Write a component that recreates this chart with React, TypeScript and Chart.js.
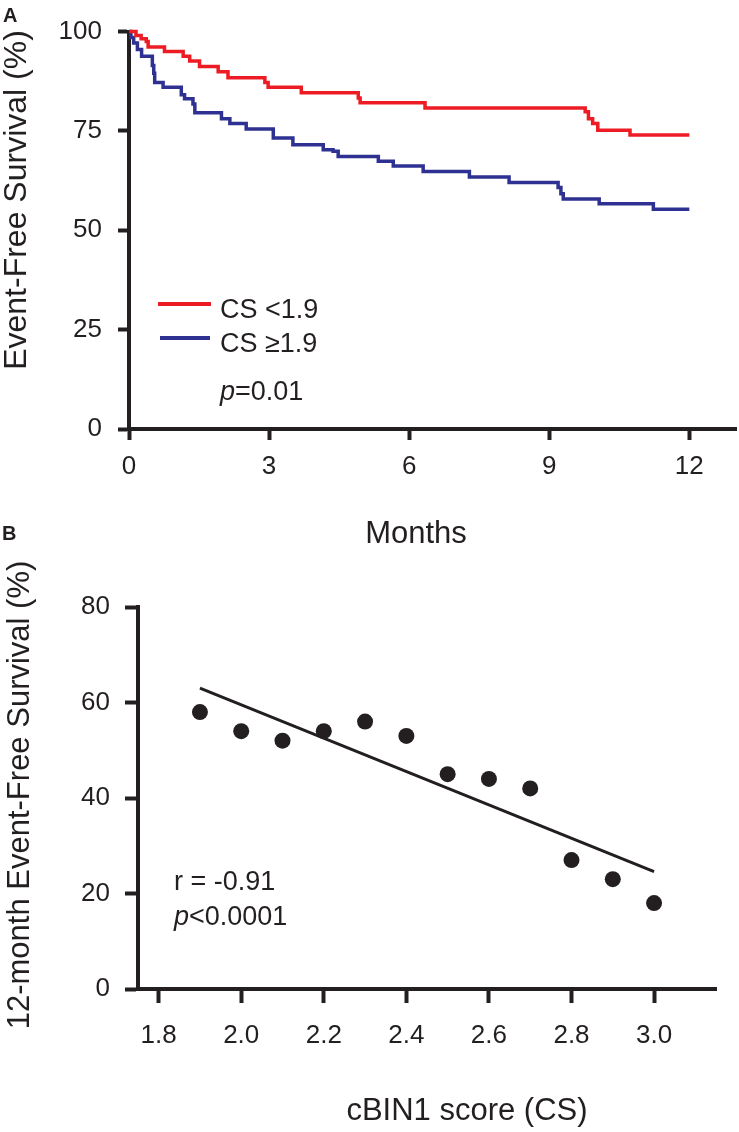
import React, { useEffect, useRef } from 'react';
import { Chart, registerables } from 'chart.js';

Chart.register(...registerables);

const FONT = "'Liberation Sans', Arial, Helvetica, sans-serif";
const INK = '#231F20';
const RED = '#ED1C24';
const BLUE = '#2E3192';

// ---------- Panel A: Kaplan-Meier ----------
const monthTicks = [0, 3, 6, 9, 12];
const survivalTicks = [0, 25, 50, 75, 100];

const lowCsMonths = [0, 0.15, 0.26, 0.37, 0.41, 0.76, 1.16, 1.3, 1.51, 1.91, 2.12, 2.91, 2.98, 3.69, 4.91, 4.95, 6.34, 9.77, 9.84, 9.93, 10.04, 10.73, 12.0];
const lowCsSurvival = [100, 99.0, 98.2, 97.5, 96.1, 95.0, 93.8, 92.6, 91.2, 89.9, 88.4, 87.2, 86.0, 84.6, 83.3, 82.1, 80.8, 79.8, 78.1, 76.9, 75.2, 74.0, 74.0];

const highCsMonths = [0, 0.04, 0.1, 0.18, 0.27, 0.5, 0.53, 0.55, 0.73, 1.12, 1.19, 1.37, 1.41, 1.98, 2.16, 2.51, 3.09, 3.51, 4.16, 4.37, 4.48, 5.34, 5.66, 6.3, 7.29, 8.14, 9.19, 9.25, 9.3, 10.07, 11.23, 12.0];
const highCsSurvival = [100, 98.5, 97.1, 95.5, 93.8, 91.5, 89.5, 87.2, 86.0, 84.1, 83.1, 81.8, 79.6, 78.1, 76.9, 75.5, 73.2, 71.5, 70.3, 69.9, 68.6, 67.4, 66.2, 64.8, 63.4, 62.0, 60.8, 59.2, 57.9, 56.7, 55.3, 55.3];

const seriesLabels = ['CS <1.9', 'CS \u22651.9'];

// ---------- Panel B: scatter + fit ----------
const csTicks = [1.8, 2.0, 2.2, 2.4, 2.6, 2.8, 3.0];
const survival12Ticks = [0, 20, 40, 60, 80];
const csScores = [1.9, 2.0, 2.1, 2.2, 2.3, 2.4, 2.5, 2.6, 2.7, 2.8, 2.9, 3.0];
const eventFreeSurvival12m = [58, 54, 52, 54, 56, 53, 45, 44, 42, 27, 23, 18];
const fitScores = [1.9, 3.0];
const fitSurvival = [63.0, 24.6];

const tickFont = { family: FONT, size: 26 };

function axisStyle(tickLength: number, padding: number) {
  return {
    grid: {
      display: true,
      drawOnChartArea: false,
      drawTicks: true,
      tickLength,
      tickWidth: 4,
      tickColor: INK,
    },
    border: { display: true, width: 4, color: INK },
    ticks: { font: tickFont, color: INK, padding },
  };
}

export default function App() {
  const refA = useRef<HTMLCanvasElement>(null);
  const refB = useRef<HTMLCanvasElement>(null);

  useEffect(() => {
    const panelA = {
      id: 'panelA',
      afterDraw(chart: any) {
        const ctx = chart.ctx;
        ctx.save();
        ctx.fillStyle = INK;
        ctx.textBaseline = 'alphabetic';
        ctx.textAlign = 'left';
        ctx.font = `bold 20px ${FONT}`;
        ctx.fillText('A', 3, 22);

        // y title
        ctx.save();
        ctx.translate(17, 200);
        ctx.rotate(-Math.PI / 2);
        ctx.font = `32px ${FONT}`;
        ctx.textAlign = 'center';
        ctx.textBaseline = 'middle';
        ctx.fillText('Event-Free Survival (%)', 0, 0);
        ctx.restore();

        // x title
        ctx.font = `31px ${FONT}`;
        ctx.textAlign = 'center';
        ctx.fillText('Months', 416, 543);

        // legend
        ctx.lineWidth = 4;
        ctx.strokeStyle = RED;
        ctx.beginPath();
        ctx.moveTo(158, 304);
        ctx.lineTo(211, 304);
        ctx.stroke();
        ctx.strokeStyle = BLUE;
        ctx.beginPath();
        ctx.moveTo(160, 338);
        ctx.lineTo(210, 338);
        ctx.stroke();
        ctx.textAlign = 'left';
        ctx.font = `27px ${FONT}`;
        ctx.fillText(seriesLabels[0], 220, 318);
        ctx.fillText(seriesLabels[1], 220, 352);
        ctx.font = `italic 27px ${FONT}`;
        ctx.fillText('p', 220, 400);
        const pw = ctx.measureText('p').width;
        ctx.font = `27px ${FONT}`;
        ctx.fillText('=0.01', 220 + pw, 400);
        ctx.restore();
      },
    };

    const chartA = new Chart(refA.current as HTMLCanvasElement, {
      type: 'line',
      data: {
        datasets: [
          {
            label: seriesLabels[0],
            data: lowCsMonths.map((m, i) => ({ x: m, y: lowCsSurvival[i] })),
            borderColor: RED,
            borderWidth: 3.5,
            stepped: 'before',
            pointRadius: 0,
            fill: false,
            clip: false,
          } as any,
          {
            label: seriesLabels[1],
            data: highCsMonths.map((m, i) => ({ x: m, y: highCsSurvival[i] })),
            borderColor: BLUE,
            borderWidth: 3.5,
            stepped: 'before',
            pointRadius: 0,
            fill: false,
            clip: false,
          } as any,
        ],
      },
      options: {
        responsive: false,
        animation: false,
        layout: { padding: { top: 25, right: 3, left: 0, bottom: 0 } },
        plugins: { legend: { display: false }, tooltip: { enabled: false } },
        scales: {
          x: {
            type: 'linear',
            min: 0,
            max: 13,
            afterBuildTicks: (s: any) => {
              s.ticks = monthTicks.map((v) => ({ value: v }));
            },
            afterFit: (s: any) => {
              s.height = 131;
            },
            ...axisStyle(11, 11),
          } as any,
          y: {
            type: 'linear',
            min: 0,
            max: 100,
            afterBuildTicks: (s: any) => {
              s.ticks = survivalTicks.map((v) => ({ value: v }));
            },
            afterFit: (s: any) => {
              s.width = 129;
            },
            ...axisStyle(11, 16),
          } as any,
        },
      },
      plugins: [panelA],
    });

    const panelB = {
      id: 'panelB',
      afterDraw(chart: any) {
        const ctx = chart.ctx;
        ctx.save();
        ctx.fillStyle = INK;
        ctx.textBaseline = 'alphabetic';
        ctx.textAlign = 'left';
        ctx.font = `bold 20px ${FONT}`;
        ctx.fillText('B', 2, 40);

        ctx.save();
        ctx.translate(20, 295);
        ctx.rotate(-Math.PI / 2);
        ctx.font = `31px ${FONT}`;
        ctx.textAlign = 'center';
        ctx.textBaseline = 'middle';
        ctx.fillText('12-month Event-Free Survival (%)', 0, 0);
        ctx.restore();

        ctx.font = `31px ${FONT}`;
        ctx.textAlign = 'center';
        ctx.textBaseline = 'middle';
        ctx.fillText('cBIN1 score (CS)', 467, 611);

        ctx.textAlign = 'left';
        ctx.textBaseline = 'alphabetic';
        ctx.font = `27px ${FONT}`;
        ctx.fillText('r = -0.91', 174, 390);
        ctx.font = `italic 27px ${FONT}`;
        ctx.fillText('p', 174, 425);
        const pw = ctx.measureText('p').width;
        ctx.font = `27px ${FONT}`;
        ctx.fillText('<0.0001', 174 + pw, 425);
        ctx.restore();
      },
    };

    const chartB = new Chart(refB.current as HTMLCanvasElement, {
      type: 'scatter',
      data: {
        datasets: [
          {
            label: '12-month event-free survival',
            data: csScores.map((c, i) => ({ x: c, y: eventFreeSurvival12m[i] })),
            backgroundColor: INK,
            borderColor: INK,
            borderWidth: 0,
            pointRadius: 8,
            clip: false,
          } as any,
          {
            type: 'line',
            label: 'Linear fit',
            data: fitScores.map((c, i) => ({ x: c, y: fitSurvival[i] })),
            borderColor: INK,
            borderWidth: 3,
            pointRadius: 0,
            showLine: true,
            fill: false,
          } as any,
        ],
      },
      options: {
        responsive: false,
        animation: false,
        layout: { padding: { top: 107, right: 23, left: 0, bottom: 0 } },
        plugins: { legend: { display: false }, tooltip: { enabled: false } },
        scales: {
          x: {
            type: 'linear',
            min: 1.75,
            max: 3.15,
            afterBuildTicks: (s: any) => {
              s.ticks = csTicks.map((v) => ({ value: v }));
            },
            afterFit: (s: any) => {
              s.height = 143;
            },
            ...axisStyle(14, 17),
            ticks: {
              font: tickFont,
              color: INK,
              padding: 17,
              callback: (v: any) => Number(v).toFixed(1),
            },
          } as any,
          y: {
            type: 'linear',
            min: 0,
            max: 80,
            afterBuildTicks: (s: any) => {
              s.ticks = survival12Ticks.map((v) => ({ value: v }));
            },
            afterFit: (s: any) => {
              s.width = 138;
            },
            ...axisStyle(13, 15),
          } as any,
        },
      },
      plugins: [panelB],
    });

    return () => {
      chartA.destroy();
      chartB.destroy();
    };
  }, []);

  return (
    <div style={{ position: 'absolute', left: 0, top: 0, width: 739, height: 1132, background: '#fff' }}>
      <canvas ref={refA} width={739} height={560} style={{ position: 'absolute', left: 0, top: 0, display: 'block' }} />
      <canvas ref={refB} width={739} height={632} style={{ position: 'absolute', left: 0, top: 500, display: 'block' }} />
    </div>
  );
}
